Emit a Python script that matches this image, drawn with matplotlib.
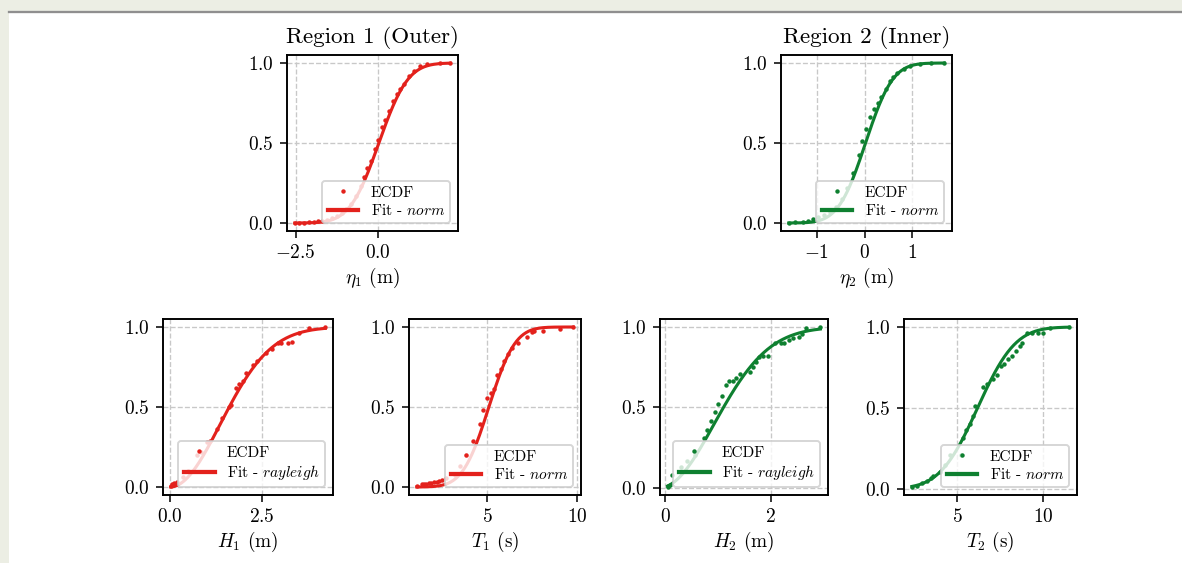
import math
import numpy as np
import matplotlib
matplotlib.use("Agg")
import matplotlib.pyplot as plt
from matplotlib.patches import Rectangle
from matplotlib.lines import Line2D

plt.rcParams.update({
    "font.family": "serif",
    "font.serif": ["cmr10"],
    "mathtext.fontset": "cm",
    "axes.formatter.use_mathtext": True,
    "font.size": 10,
    "axes.linewidth": 1.0,
})

RED = "#e3211c"
GREEN = "#0e8030"

# ---- ECDF samples (value, cumulative fraction) ----
eta1_x = [-2.53, -2.40, -2.25, -2.10, -1.95, -1.82, -1.70, -1.55, -1.40, -1.25, -1.10, -0.95,
          -0.80, -0.65, -0.52, -0.40, -0.32, -0.21, -0.08, 0.02, 0.14, 0.24, 0.35, 0.47,
          0.60, 0.70, 0.80, 0.96, 1.11, 1.31, 1.52, 1.92, 2.22]
eta1_y = [0.0, 0.0, 0.002, 0.004, 0.006, 0.01, 0.015, 0.02, 0.03, 0.045, 0.06, 0.085,
          0.12, 0.17, 0.23, 0.289, 0.345, 0.39, 0.46, 0.52, 0.60, 0.645, 0.70, 0.76,
          0.805, 0.84, 0.87, 0.92, 0.95, 0.98, 0.996, 1.0, 1.0]

eta2_x = [-1.59, -1.45, -1.30, -1.18, -1.08, -0.98, -0.85, -0.72, -0.60, -0.48, -0.36, -0.24,
          -0.12, -0.05, 0.02, 0.11, 0.20, 0.28, 0.35, 0.44, 0.53, 0.60, 0.68, 0.82,
          0.96, 1.17, 1.40, 1.67]
eta2_y = [0.0, 0.004, 0.008, 0.015, 0.025, 0.035, 0.05, 0.07, 0.10, 0.15, 0.22, 0.31,
          0.425, 0.51, 0.59, 0.66, 0.71, 0.75, 0.79, 0.84, 0.885, 0.91, 0.94, 0.96,
          0.98, 0.996, 1.0, 1.0]

H1_x = [0.02, 0.05, 0.11, 0.20, 0.35, 0.50, 0.74, 0.85, 1.02, 1.08, 1.28, 1.43, 1.60, 1.66,
        1.79, 1.88, 1.99, 2.08, 2.27, 2.37, 2.62, 2.77, 2.93, 3.02, 3.22, 3.33, 3.52, 3.79, 4.23]
H1_y = [0.005, 0.02, 0.025, 0.03, 0.06, 0.10, 0.20, 0.22, 0.283, 0.287, 0.36, 0.43, 0.50, 0.51,
        0.62, 0.645, 0.665, 0.71, 0.76, 0.79, 0.835, 0.86, 0.897, 0.90, 0.90, 0.905, 0.96, 0.996, 1.0]

T1_x = [1.10, 1.37, 1.50, 1.63, 1.77, 1.90, 2.05, 2.20, 2.35, 2.50, 2.72, 3.22, 3.50, 3.83,
        4.20, 4.61, 4.80, 5.00, 5.20, 5.39, 5.57, 5.78, 5.96, 6.15, 6.41, 6.74, 7.20, 7.48,
        7.60, 8.10, 9.05, 9.78]
T1_y = [0.005, 0.02, 0.02, 0.02, 0.025, 0.025, 0.03, 0.03, 0.035, 0.045, 0.056, 0.076, 0.13, 0.20,
        0.29, 0.397, 0.48, 0.556, 0.59, 0.61, 0.70, 0.74, 0.79, 0.83, 0.866, 0.897, 0.94, 0.97,
        0.975, 0.977, 0.99, 1.0]

H2_x = [0.05, 0.06, 0.09, 0.14, 0.30, 0.42, 0.56, 0.73, 0.79, 0.87, 0.95, 1.01, 1.07, 1.15,
        1.21, 1.29, 1.35, 1.42, 1.61, 1.67, 1.72, 1.78, 1.85, 1.94, 2.09, 2.19, 2.25, 2.34,
        2.43, 2.53, 2.59, 2.66, 2.94]
H2_y = [0.005, 0.01, 0.02, 0.078, 0.13, 0.164, 0.205, 0.308, 0.359, 0.417, 0.472, 0.524, 0.569, 0.641,
        0.663, 0.663, 0.684, 0.708, 0.719, 0.754, 0.78, 0.811, 0.821, 0.821, 0.903, 0.903, 0.903, 0.918,
        0.93, 0.938, 0.959, 0.996, 1.0]

T2_x = [2.37, 2.66, 2.95, 3.24, 3.48, 3.63, 4.02, 4.32, 4.61, 5.23, 5.33, 5.55, 5.78, 5.94,
        6.07, 6.50, 6.72, 7.11, 7.34, 7.54, 7.73, 7.99, 8.22, 8.42, 8.67, 8.80, 9.10, 9.34,
        9.69, 9.98, 10.43, 11.53]
T2_y = [0.01, 0.014, 0.035, 0.045, 0.065, 0.08, 0.10, 0.147, 0.21, 0.21, 0.315, 0.36, 0.40, 0.45,
        0.51, 0.626, 0.65, 0.68, 0.70, 0.757, 0.77, 0.80, 0.82, 0.85, 0.88, 0.90, 0.96, 0.96,
        0.96, 0.965, 0.995, 1.0]

# ---- fitted distribution parameters: (name, loc, scale) ----
eta1_fit = ("norm", 0.04, 0.70)
eta2_fit = ("norm", 0.02, 0.45)
H1_fit = ("rayleigh", 0.0, 1.37)
T1_fit = ("norm", 5.10, 1.14)
H2_fit = ("rayleigh", -0.106, 1.03)
T2_fit = ("norm", 6.20, 1.73)


def fit_cdf(fit, x):
    name, loc, scale = fit
    if name == "norm":
        return np.array([0.5 * (1.0 + math.erf((v - loc) / (scale * math.sqrt(2.0)))) for v in x])
    z = np.clip(x - loc, 0, None)
    return 1.0 - np.exp(-z ** 2 / (2.0 * scale * scale))


DPI = 138.5
fig = plt.figure(figsize=(1182 / DPI, 563 / DPI), dpi=DPI)
W, H = 1182.0, 563.0

# page chrome around the figure
fig.patches.append(Rectangle((0, 1 - 11 / H), 1, 11 / H, transform=fig.transFigure,
                             facecolor="#eceee4", edgecolor="none", zorder=-5))
fig.patches.append(Rectangle((0, 0), 9 / W, 1, transform=fig.transFigure,
                             facecolor="#eceee4", edgecolor="none", zorder=-5))
fig.lines.append(Line2D([9 / W, 1], [1 - 12 / H, 1 - 12 / H], transform=fig.transFigure,
                        color="#8f8f8f", lw=1.2))


def px_axes(x0, y0, x1, y1):
    return fig.add_axes([x0 / W, 1 - y1 / H, (x1 - x0) / W, (y1 - y0) / H])


panels = [
    (px_axes(287, 55, 458, 231), eta1_x, eta1_y, eta1_fit, RED, r"$\eta_1$ (m)", [-2.5, 0.0], "Region 1 (Outer)"),
    (px_axes(781, 55, 952, 231), eta2_x, eta2_y, eta2_fit, GREEN, r"$\eta_2$ (m)", [-1, 0, 1], "Region 2 (Inner)"),
    (px_axes(163, 319, 333, 495), H1_x, H1_y, H1_fit, RED, r"$H_1$ (m)", [0.0, 2.5], None),
    (px_axes(409, 319, 581, 495), T1_x, T1_y, T1_fit, RED, r"$T_1$ (s)", [5, 10], None),
    (px_axes(660, 319, 828, 495), H2_x, H2_y, H2_fit, GREEN, r"$H_2$ (m)", [0, 2], None),
    (px_axes(904, 319, 1077, 495), T2_x, T2_y, T2_fit, GREEN, r"$T_2$ (s)", [5, 10], None),
]

for ax, xs, ys, fit, col, xlabel, xticks, title in panels:
    xs = np.asarray(xs)
    ax.plot(xs, ys, "o", ms=1.3, color=col, label="ECDF", zorder=3)
    xx = np.linspace(xs.min(), xs.max(), 200)
    ax.plot(xx, fit_cdf(fit, xx), "-", lw=1.6, color=col,
            label=r"Fit - $%s$" % fit[0], zorder=2)
    ax.grid(True, ls="--", color="#c8c8c8", lw=0.7)
    ax.set_axisbelow(True)
    ax.set_xticks(xticks)
    ax.set_yticks([0.0, 0.5, 1.0])
    ax.set_xlabel(xlabel, labelpad=2)
    if title:
        ax.set_title(title, fontsize=12)
    leg = ax.legend(loc="lower right", fontsize=8, labelspacing=0.2, borderpad=0.35)
    for h in leg.get_lines():
        h.set_linewidth(2.2)

fig.savefig("out.png", dpi=DPI)
